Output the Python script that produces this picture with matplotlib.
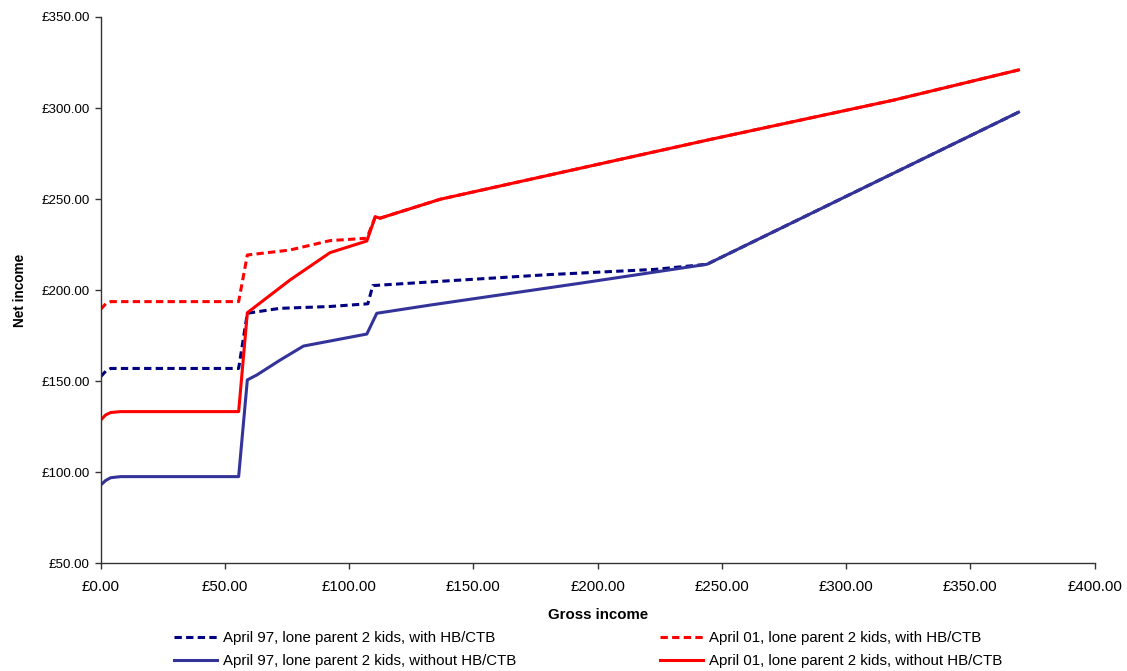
import numpy as np
import matplotlib
matplotlib.use("Agg")
import matplotlib.pyplot as plt
from matplotlib.ticker import FuncFormatter

plt.rcParams['font.family'] = ['Liberation Sans', 'DejaVu Sans']

# April 97, lone parent 2 kids, with HB/CTB
x97_with = [0, 2, 4, 55.5, 59, 72, 92, 107.5, 109.5, 132.6, 180, 223, 244, 369.4]
y97_with = [152.5, 155.5, 157, 157, 187.3, 190, 191, 192.5, 202.5, 204.5, 208.5, 211.4, 214.2, 297.7]

# April 01, lone parent 2 kids, with HB/CTB
x01_with = [0, 2, 4, 55.5, 59, 76, 92.3, 107.1, 110.5, 112.4, 136.6, 244.5, 319.3, 369.4]
y01_with = [189.5, 192.5, 193.7, 193.7, 219.3, 222, 227.2, 228.5, 240.3, 239.5, 249.9, 282.5, 304.4, 320.9]

# April 97, lone parent 2 kids, without HB/CTB
x97_without = [0, 2, 4, 8, 55.5, 59, 62.8, 72.2, 81.6, 107.1, 111.1, 132.6, 193, 244, 369.4]
y97_without = [93, 95.5, 97, 97.6, 97.6, 150.7, 153.4, 161.6, 169.3, 175.9, 187.3, 191.8, 203.8, 214.2, 297.7]

# April 01, lone parent 2 kids, without HB/CTB
x01_without = [0, 2, 4, 8, 55.5, 59, 76.2, 92.3, 107.1, 110.5, 112.4, 136.6, 244.5, 319.3, 369.4]
y01_without = [128.7, 131.5, 132.8, 133.3, 133.3, 187.6, 205.6, 220.6, 227, 240.3, 239.5, 249.9, 282.5, 304.4, 320.9]

labels = ["April 97, lone parent 2 kids, with HB/CTB",
          "April 01, lone parent 2 kids, with HB/CTB",
          "April 97, lone parent 2 kids, without HB/CTB",
          "April 01, lone parent 2 kids, without HB/CTB"]

fig = plt.figure(figsize=(11.27, 6.71), dpi=100)
ax = fig.add_axes([0.0894, 0.1605, 0.8818, 0.8142])

lw = 2.2
l1, = ax.plot(x97_with, y97_with, color='#000080', lw=lw, dashes=(2.4, 1.4), dash_capstyle='butt', label=labels[0])
l2, = ax.plot(x01_with, y01_with, color='#FF0000', lw=lw, dashes=(2.4, 1.4), dash_capstyle='butt', label=labels[1])
l3, = ax.plot(x97_without, y97_without, color='#333399', lw=lw, label=labels[2])
l4, = ax.plot(x01_without, y01_without, color='#FF0000', lw=lw, label=labels[3])

ax.set_xlim(0, 400)
ax.set_ylim(50, 350)
ax.set_xticks(np.arange(0, 401, 50))
ax.set_yticks(np.arange(50, 351, 50))
fmt = FuncFormatter(lambda v, p: "£%.2f" % v)
ax.xaxis.set_major_formatter(fmt)
ax.yaxis.set_major_formatter(fmt)
ax.tick_params(length=4, width=1, color='#333333')
ax.tick_params(axis='x', labelsize=10.8, pad=8)
ax.tick_params(axis='y', labelsize=9.6, pad=4)

ax.spines['top'].set_visible(False)
ax.spines['right'].set_visible(False)
for s in ['left', 'bottom']:
    ax.spines[s].set_color('#333333')
    ax.spines[s].set_linewidth(1)

ax.set_xlabel("Gross income", fontsize=10.8, fontweight='bold', labelpad=10)
ax.set_ylabel("Net income", fontsize=9.8, fontweight='bold', labelpad=10)

fig.legend([l1, l3, l2, l4], [labels[0], labels[2], labels[1], labels[3]],
           ncol=2, loc='lower left', bbox_to_anchor=(0.142, -0.016),
           frameon=False, fontsize=10.8, handlelength=2.9, handletextpad=0.37,
           columnspacing=9.6, labelspacing=0.62)

fig.savefig("out.png", dpi=100)
